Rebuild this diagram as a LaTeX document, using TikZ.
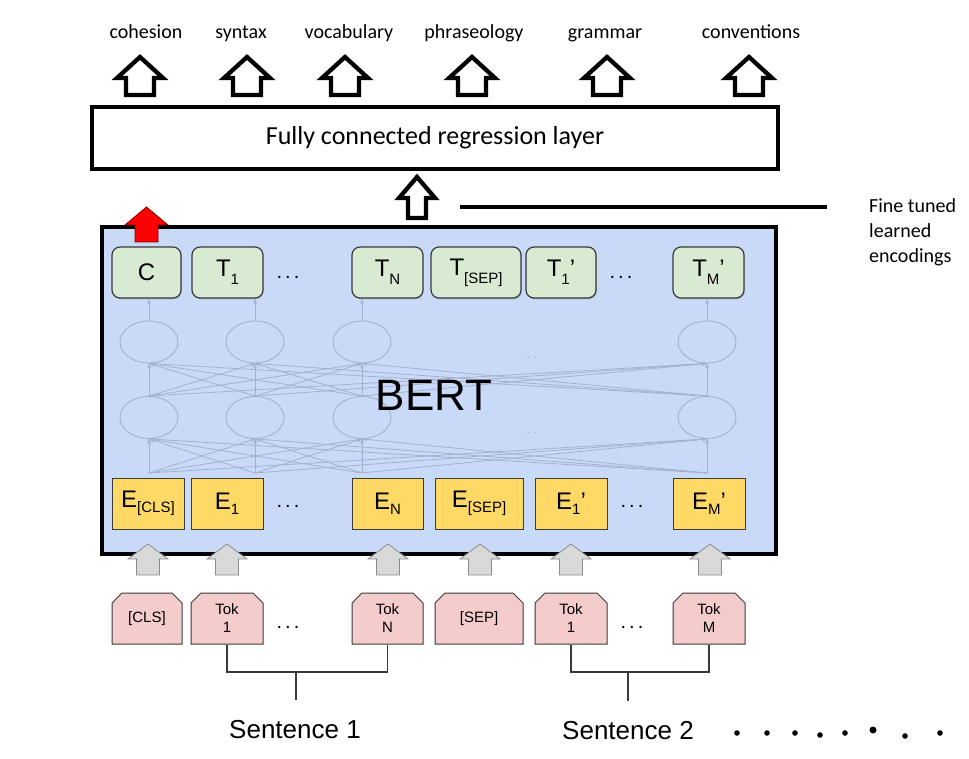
\documentclass[tikz,border=0pt]{standalone}
\usepackage{fontspec}
\setmainfont{Liberation Sans}
\newfontfamily\calibrifont{Carlito}
\usetikzlibrary{arrows.meta,shapes.misc,shapes.geometric,shadows}
\definecolor{bertblue}{HTML}{C9DAF8}
\definecolor{tgreen}{HTML}{D9EAD3}
\definecolor{eyellow}{HTML}{FFD966}
\definecolor{tokpink}{HTML}{F4CCCC}
\definecolor{netc}{HTML}{A3B1CC}
\definecolor{garrow}{HTML}{D9D9D9}
\definecolor{boxline}{HTML}{3A3A3A}
\newcommand\tsub[1]{\raisebox{-8pt}{\fontsize{15}{15}\selectfont #1}}
\newcommand\esub[1]{\raisebox{-5pt}{\fontsize{15}{15}\selectfont #1}}
\newcommand\blockarrow[7]{% style, cx, tip, headbase, bottom, headhalf, shafthalf
  \draw[#1] (#2,#3) -- ({#2+#6},#4) -- ({#2+#7},#4) -- ({#2+#7},#5)
    -- ({#2-#7},#5) -- ({#2-#7},#4) -- ({#2-#6},#4) -- cycle;}
\tikzset{
  toplabel/.style={anchor=base, inner sep=0pt, font=\calibrifont\fontsize{20}{24}\selectfont},
  hollow/.style={draw=black, line width=4.3pt, fill=white, line join=miter},
  redarrow/.style={draw=red!50!black, line width=0.8pt, fill=red},
  greyarrow/.style={draw=black!45, line width=0.8pt, fill=garrow},
  regbox/.style={draw=black, line width=4pt, fill=white, minimum width=686pt, minimum height=62pt,
    inner sep=0pt, font=\calibrifont\fontsize{26}{30}\selectfont},
  bertbox/.style={draw=black, line width=4pt, fill=bertblue, minimum width=674pt, minimum height=327pt, inner sep=0pt},
  netell/.style={ellipse, draw=netc, line width=0.9pt, minimum width=58pt, minimum height=42pt, inner sep=0pt},
  netline/.style={draw=netc, line width=0.8pt, -{Stealth[length=5pt,width=4pt]}},
  netdots/.style={text=netc, font=\fontsize{12}{12}\selectfont, inner sep=0pt},
  tnode/.style={draw=boxline, line width=1.2pt, fill=tgreen, rounded corners=8pt, minimum height=51pt,
    inner sep=0pt, font=\fontsize{24}{24}\selectfont,
    drop shadow={opacity=0.35, shadow xshift=0.8pt, shadow yshift=-1.5pt}},
  enode/.style={draw=boxline, line width=1pt, fill=eyellow, minimum height=51pt, inner sep=0pt,
    font=\fontsize{24}{24}\selectfont},
  toknode/.style={chamfered rectangle, chamfered rectangle corners={north west,north east},
    chamfered rectangle xsep=5pt, chamfered rectangle ysep=5pt,
    draw=boxline, line width=1pt, fill=tokpink, minimum height=51pt, inner sep=0pt,
    align=center, font=\fontsize{15}{18}\selectfont},
  boxdots/.style={inner sep=0pt, font=\fontsize{20}{20}\selectfont},
  bracket/.style={draw=boxline, line width=1.2pt},
  sentence/.style={inner sep=0pt, font=\fontsize{26}{30}\selectfont},
  sidetext/.style={anchor=base west, inner sep=0pt, font=\calibrifont\fontsize{20}{24}\selectfont},
}
\newcommand\bdots{.\hspace{3pt}.\hspace{3pt}.}
\begin{document}
\begin{tikzpicture}[x=1pt,y=-1pt]
\useasboundingbox (0,0) rectangle (969,759);
\fill[white] (0,0) rectangle (969,759);

% output labels
\node[toplabel] (lcoh) at (146,39) {cohesion};
\node[toplabel] (lsyn) at (241,39) {syntax};
\node[toplabel] (lvoc) at (349,39) {vocabulary};
\node[toplabel] (lphr) at (474,39) {phraseology};
\node[toplabel] (lgra) at (605,39) {grammar};
\node[toplabel] (lcon) at (751,39) {conventions};
\foreach \x in {140,247,345,472,607,749} {\blockarrow{hollow}{\x}{57}{78}{95}{23}{14}}

% regression layer
\node[regbox] (reg) at (435,138) {Fully connected regression layer};
\blockarrow{hollow}{417}{177}{198}{218}{18}{9}

% leader line and side text
\coordinate (leadA) at (460,207);
\coordinate (leadB) at (827,207);
\draw[line width=4pt] (leadA) -- (leadB);
\node[sidetext] (ft1) at (869,213) {Fine tuned};
\node[sidetext] (ft2) at (869,238) {learned};
\node[sidetext] (ft3) at (869,263) {encodings};

% BERT box
\node[bertbox] (bertbox) at (439,390.5) {};

% network
\foreach \x in {149,255,362,707} {
  \node[netell] (u\x) at (\x,342) {};
  \node[netell] (l\x) at (\x,417.5) {};
  \coordinate (b\x) at (\x,473);
  \coordinate (t\x) at (\x,299);
}
\foreach \x in {149,255,362,707} {
  \foreach \y in {149,255,362,707} {
    \draw[netline] (b\x) -- (l\y.south);
    \draw[netline] (l\x.north) -- (u\y.south);
  }
  \draw[netline] (u\x.north) -- (t\x);
}
\node[netdots] (nd1) at (529,358) {\bdots};
\node[netdots] (nd2) at (529,433) {\bdots};
\node[inner sep=0pt, font=\fontsize{44}{44}\selectfont] (bert) at (434,395) {BERT};

% T row
\node[tnode, minimum width=69pt] (c) at (146.5,272.5) {C};
\node[tnode, minimum width=71pt] (t1) at (227.5,272.5) {T\tsub{1}};
\node[tnode, minimum width=71pt] (tn) at (387.5,272.5) {T\tsub{N}};
\node[tnode, minimum width=90pt] (tsep) at (476,272.5) {T\tsub{[SEP]}};
\node[tnode, minimum width=70pt] (t1p) at (561,272.5) {T\tsub{1}’};
\node[tnode, minimum width=71pt] (tmp) at (708.5,272.5) {T\tsub{M}’};
\node[boxdots] (td1) at (288,277) {\bdots};
\node[boxdots] (td2) at (621,277) {\bdots};

% red arrow
\blockarrow{redarrow}{146.5}{207}{225}{242}{21.5}{11.5}

% E row
\node[enode, minimum width=72pt] (ecls) at (148,503.5) {E\esub{[CLS]}};
\node[enode, minimum width=72pt] (e1) at (227,503.5) {E\esub{1}};
\node[enode, minimum width=71pt] (en) at (387.5,503.5) {E\esub{N}};
\node[enode, minimum width=88pt] (esep) at (479,503.5) {E\esub{[SEP]}};
\node[enode, minimum width=72pt] (e1p) at (571,503.5) {E\esub{1}’};
\node[enode, minimum width=72pt] (emp) at (709,503.5) {E\esub{M}’};
\node[boxdots] (ed1) at (288,506) {\bdots};
\node[boxdots] (ed2) at (632,506) {\bdots};

% grey input arrows
\foreach \x in {148,227,388,480,571,710} {\blockarrow{greyarrow}{\x}{544}{559}{575}{20}{11.5}}

% token row
\node[toknode, minimum width=70pt] (kcls) at (147,618.5) {[CLS]};
\node[toknode, minimum width=72pt] (k1) at (227,618.5) {Tok\\1};
\node[toknode, minimum width=71pt] (kn) at (387.5,618.5) {Tok\\N};
\node[toknode, minimum width=88pt] (ksep) at (479,618.5) {[SEP]};
\node[toknode, minimum width=72pt] (k1p) at (571,618.5) {Tok\\1};
\node[toknode, minimum width=72pt] (km) at (709,618.5) {Tok\\M};
\node[boxdots] (kd1) at (288,627) {\bdots};
\node[boxdots] (kd2) at (632,627) {\bdots};

% sentence brackets
\coordinate (j1) at (296,672);
\coordinate (s1) at (296,700);
\coordinate (j2) at (628,672);
\coordinate (s2) at (628,701);
\draw[bracket] (k1.south) |- (j1) -| (kn.south);
\draw[bracket] (j1) -- (s1);
\draw[bracket] (k1p.south) |- (j2) -| (km.south);
\draw[bracket] (j2) -- (s2);
\node[sentence] (sent1) at (295,730) {Sentence 1};
\node[sentence] (sent2) at (628,731) {Sentence 2};
\foreach \x/\y/\r in {737/733/2.8, 767/733/2.8, 795/733/2.8, 820/735/2.8, 845/733/2.8, 873/730/3.5, 905/736/2.8, 940/733/2.8}
  {\fill (\x,\y) circle[radius=\r];}
\end{tikzpicture}
\end{document}
